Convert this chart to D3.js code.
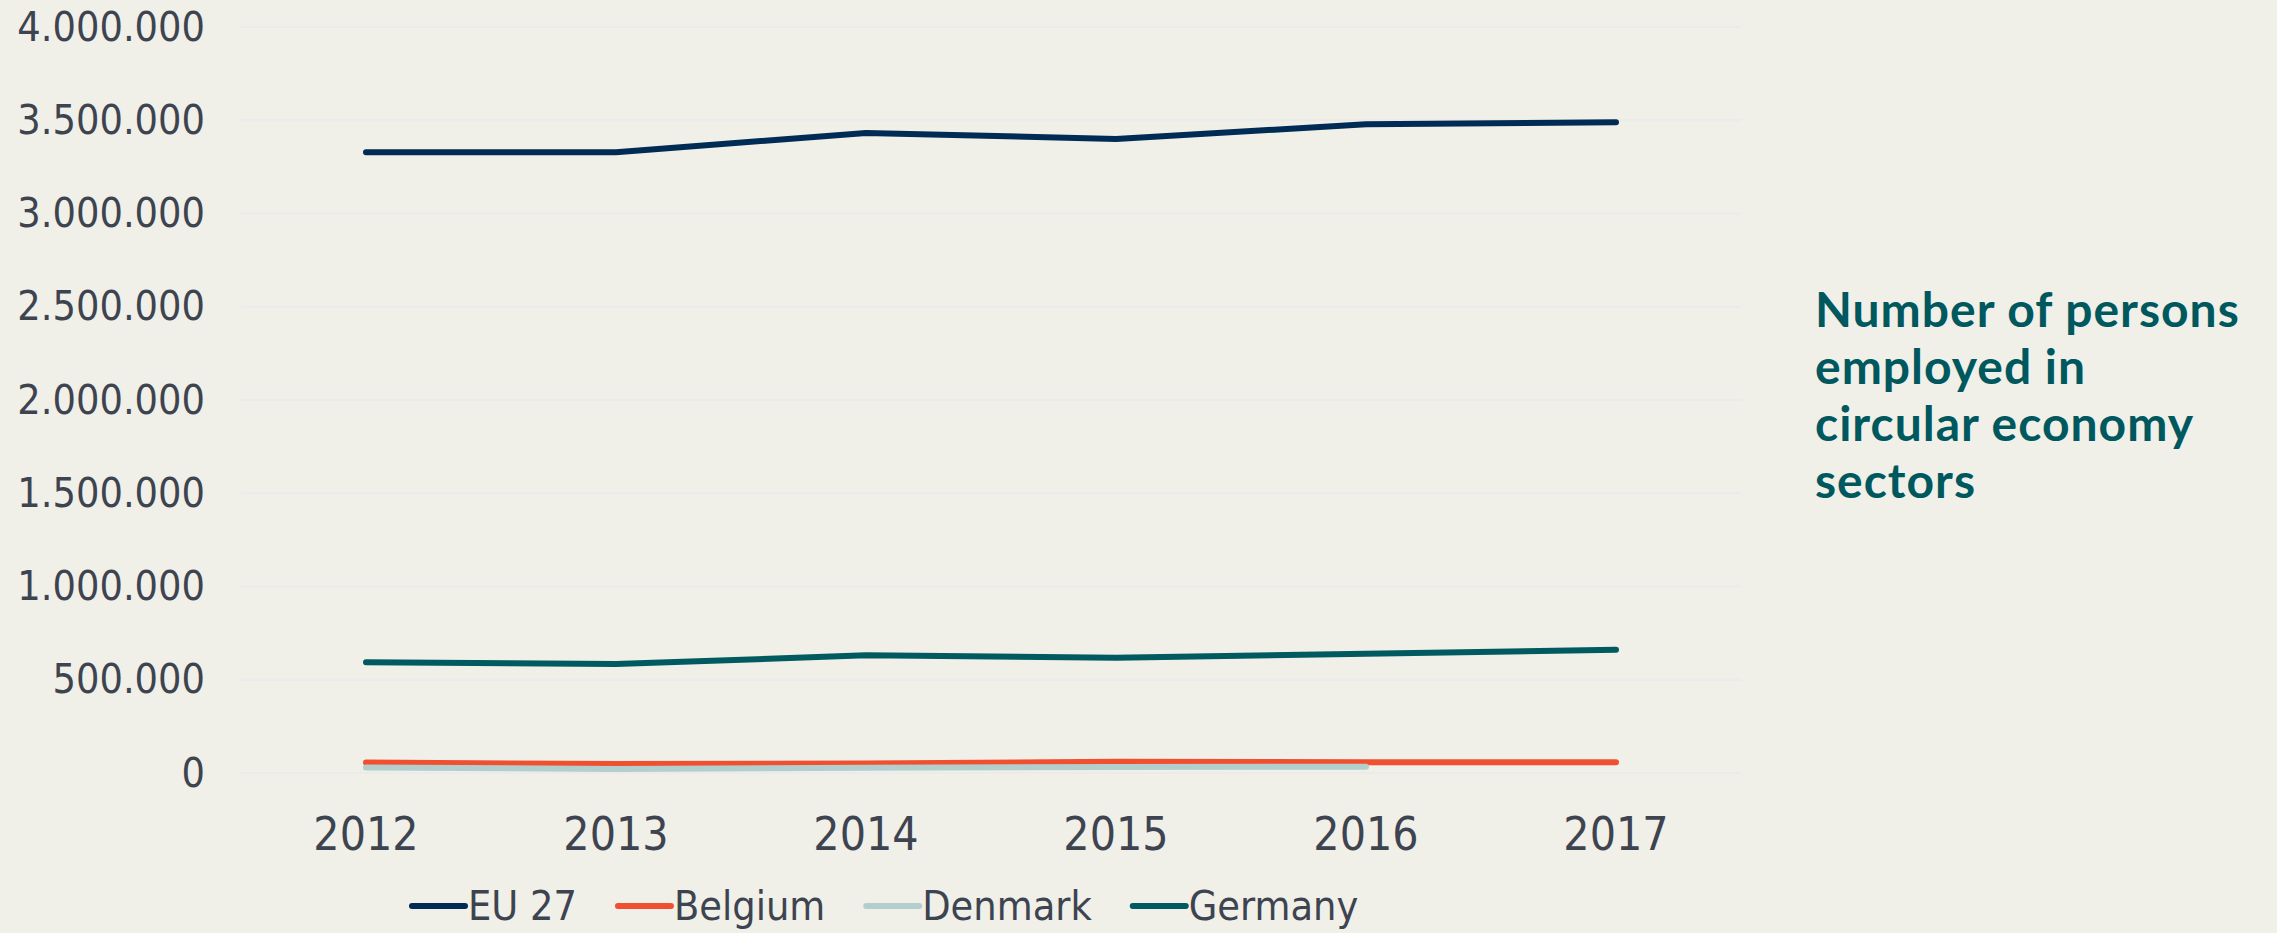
<!DOCTYPE html>
<html>
<head>
<meta charset="utf-8">
<script src="https://cdn.jsdelivr.net/npm/d3@7"></script>
<style>
  html, body { margin: 0; padding: 0; background: #f0efe8; }
  svg { display: block; }
  .tick-label { font-family: "DejaVu Sans Condensed", "DejaVu Sans", sans-serif; font-stretch: condensed; fill: #3d4450; }
</style>
</head>
<body>
<svg id="chart" width="2277" height="933"></svg>
<script>
// chart data
var years = ["2012", "2013", "2014", "2015", "2016", "2017"];
var seriesNames = ["EU 27", "Belgium", "Denmark", "Germany"];
var seriesColors = ["#002b55", "#f0502f", "#b3cfcd", "#005a5f"];
var eu27 = [3328000, 3328000, 3432000, 3400000, 3478000, 3489000];
var belgium = [56000, 48000, 51000, 60000, 58000, 57000];
var denmark = [30000, 21000, 28000, 32000, 34000, null];
var germany = [594000, 584000, 631000, 618000, 640000, 661000];
var yTicks = [0, 500000, 1000000, 1500000, 2000000, 2500000, 3000000, 3500000, 4000000];
var titleLines = ["Number of persons", "employed in", "circular economy", "sectors"];

var margin = {left: 241, right: 536, top: 27, bottom: 160};
var width = 2277 - margin.left - margin.right,
    height = 933 - margin.top - margin.bottom;

var svg = d3.select("#chart");

var x = d3.scaleBand().domain(years).range([margin.left, margin.left + width]);
var y = d3.scaleLinear().domain([0, 4000000]).range([margin.top + height, margin.top]);

var fmt = function (v) {
    return d3.format(",")(v).replace(/,/g, ".");
};

// gridlines (very faint)
svg.append("g")
    .attr("class", "grid")
    .selectAll("line")
    .data(yTicks)
    .enter()
    .append("line")
    .attr("x1", margin.left)
    .attr("x2", margin.left + width)
    .attr("y1", function (d) { return y(d); })
    .attr("y2", function (d) { return y(d); })
    .attr("stroke", "#eaebea")
    .attr("stroke-width", 2);

// y axis labels
var yAxis = d3.axisLeft(y).tickValues(yTicks).tickFormat(fmt).tickSize(0).tickPadding(36);
var gy = svg.append("g")
    .attr("transform", "translate(" + margin.left + ",0)")
    .call(yAxis);
gy.select(".domain").remove();
gy.selectAll("text")
    .attr("class", "tick-label")
    .style("font-size", "41px")
    .attr("fill", "#3d4450");

// x axis labels
var xAxis = d3.axisBottom(x).tickSize(0).tickPadding(0);
var gx = svg.append("g")
    .attr("transform", "translate(0," + (margin.top + height) + ")")
    .call(xAxis);
gx.select(".domain").remove();
gx.selectAll("text")
    .attr("class", "tick-label")
    .attr("dy", null)
    .attr("y", 77)
    .style("font-size", "46px")
    .attr("fill", "#3d4450");

// lines
var allSeries = [eu27, belgium, denmark, germany];
var line = d3.line()
    .defined(function (d) { return d != null; })
    .x(function (d, i) { return x(years[i]) + x.bandwidth() / 2; })
    .y(function (d) { return y(d); });

svg.append("g")
    .selectAll("path")
    .data(allSeries)
    .enter()
    .append("path")
    .attr("d", function (d) { return line(d); })
    .attr("fill", "none")
    .attr("stroke", function (d, i) { return seriesColors[i]; })
    .attr("stroke-width", 6)
    .attr("stroke-linecap", "round")
    .attr("stroke-linejoin", "round");

// legend
var legend = svg.append("g").attr("transform", "translate(412,906)");
var lx = 0;
seriesNames.forEach(function (name, i) {
    var item = legend.append("g").attr("transform", "translate(" + lx + ",0)");
    item.append("line")
        .attr("x1", 0).attr("x2", 53)
        .attr("y1", 0).attr("y2", 0)
        .attr("stroke", seriesColors[i])
        .attr("stroke-width", 6)
        .attr("stroke-linecap", "round");
    var t = item.append("text")
        .attr("class", "tick-label")
        .attr("x", 56)
        .attr("y", 14)
        .style("font-size", "41px")
        .text(name);
    lx += 56 + t.node().getComputedTextLength() + 41;
});

// title on the right
svg.append("text")
    .attr("x", 1815)
    .attr("y", 327)
    .attr("fill", "#00585f")
    .style("font-family", "Lato, 'Open Sans', sans-serif")
    .style("font-weight", "bold")
    .style("font-size", "48px")
    .style("letter-spacing", "1px")
    .selectAll("tspan")
    .data(titleLines)
    .enter()
    .append("tspan")
    .attr("x", 1815)
    .attr("dy", function (d, i) { return i == 0 ? 0 : 57; })
    .text(function (d) { return d; });
</script>
</body>
</html>
